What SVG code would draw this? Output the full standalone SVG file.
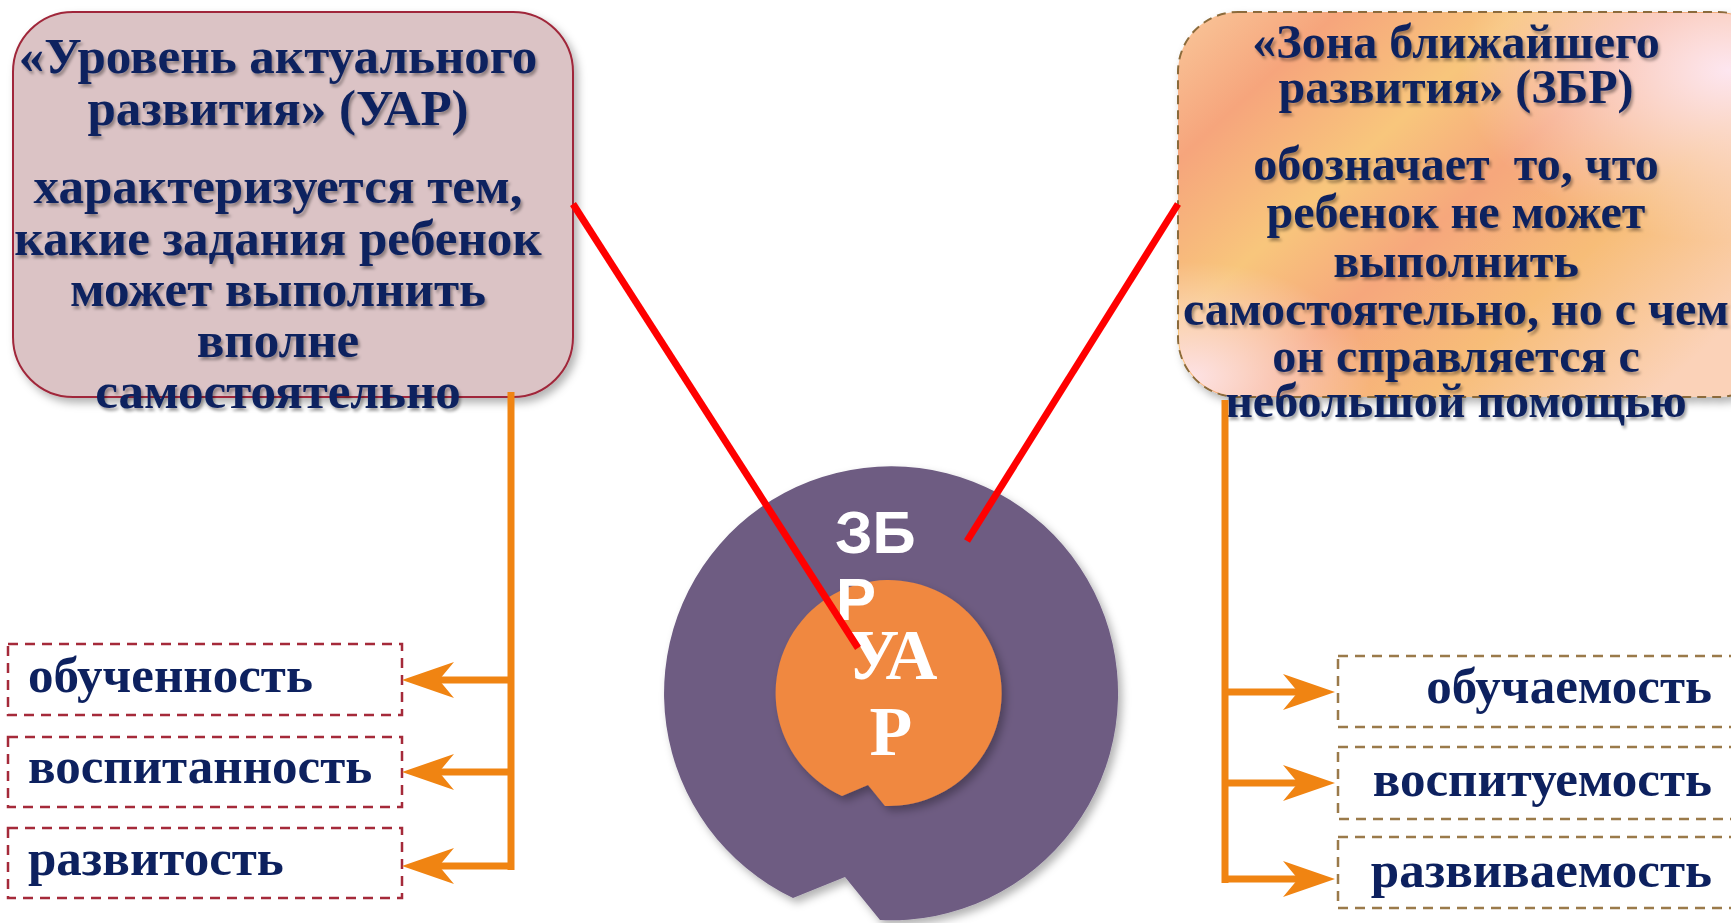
<svg xmlns="http://www.w3.org/2000/svg" width="1731" height="923" viewBox="0 0 1731 923">
<defs>
<style>
.t{font-family:"Liberation Serif","Times New Roman",serif;font-weight:bold;fill:#0d215f;white-space:pre}
.tl{font-size:51px}
.tr{font-size:48px}
.ts{font-size:51px}
.conn{stroke:#f08412;stroke-width:7;fill:none}
.red{stroke:#ff0000;stroke-width:7;fill:none}
.dl{fill:#fff;stroke:#a52a3a;stroke-width:2.5;stroke-dasharray:10 7}
.dr{fill:#fff;stroke:#9a7a4a;stroke-width:2.5;stroke-dasharray:10 7}
</style>
<filter id="tsh" x="-10%" y="-30%" width="120%" height="160%">
<feDropShadow dx="2" dy="3" stdDeviation="1.5" flood-color="#000" flood-opacity="0.35"/>
</filter>
<filter id="bsh" x="-10%" y="-10%" width="125%" height="125%">
<feDropShadow dx="4" dy="5" stdDeviation="4" flood-color="#000" flood-opacity="0.3"/>
</filter>
<linearGradient id="zg" x1="0" y1="0" x2="1" y2="0.7">
<stop offset="0" stop-color="#f9c79a"/>
<stop offset="0.18" stop-color="#f6a57c"/>
<stop offset="0.38" stop-color="#f8c67c"/>
<stop offset="0.55" stop-color="#f6a77c"/>
<stop offset="0.75" stop-color="#f7bd78"/>
<stop offset="1" stop-color="#fbd2b8"/>
</linearGradient>
<radialGradient id="zg2" cx="0.92" cy="0.15" r="0.45">
<stop offset="0" stop-color="#fde6f0" stop-opacity="1"/>
<stop offset="1" stop-color="#fde6f0" stop-opacity="0"/>
</radialGradient>
<radialGradient id="zg3" cx="0.02" cy="0.95" r="0.3">
<stop offset="0" stop-color="#fde2e4" stop-opacity="1"/>
<stop offset="1" stop-color="#fde2e4" stop-opacity="0"/>
</radialGradient>
<marker id="ah" viewBox="0 0 52 36" refX="15" refY="18" markerWidth="52" markerHeight="36" markerUnits="userSpaceOnUse" orient="auto">
<path d="M0,0 L52,18 L0,36 L15,18 Z" fill="#f08412"/>
</marker>
</defs>
<rect width="1731" height="923" fill="#fff"/>

<g id="node-uar">
<rect x="13" y="12" width="560" height="385" rx="60" fill="#dbc3c5" stroke="#a0283a" stroke-width="2" filter="url(#bsh)"/>
<g class="t tl" text-anchor="middle" filter="url(#tsh)">
<text x="278" y="73">«Уровень актуального</text>
<text x="278" y="125">развития» (УАР)</text>
<text x="278" y="203">характеризуется тем,</text>
<text x="278" y="255">какие задания ребенок</text>
<text x="278" y="306">может выполнить</text>
<text x="278" y="357">вполне</text>
<text x="278" y="408">самостоятельно</text>
</g>
</g>

<g id="node-zbr">
<g filter="url(#bsh)">
<rect x="1178" y="12" width="600" height="385" rx="60" fill="url(#zg)" stroke="#8b6b3a" stroke-width="2" stroke-dasharray="9 6"/>
</g>
<rect x="1179" y="13" width="598" height="383" rx="59" fill="url(#zg2)"/>
<rect x="1179" y="13" width="598" height="383" rx="59" fill="url(#zg3)"/>
<g class="t tr" text-anchor="middle" filter="url(#tsh)">
<text x="1456" y="58">«Зона ближайшего</text>
<text x="1456" y="103">развития» (ЗБР)</text>
<text x="1456" y="180" xml:space="preserve">обозначает  то, что</text>
<text x="1456" y="228">ребенок не может</text>
<text x="1456" y="277">выполнить</text>
<text x="1456" y="325">самостоятельно, но с чем</text>
<text x="1456" y="372">он справляется с</text>
<text x="1456" y="417">небольшой помощью</text>
</g>
</g>

<g id="node-circles">
<path d="M880,920 A227,227 0 1 0 793,898 L845,877 Z" fill="#6e5c82" filter="url(#bsh)"/>
<path d="M885,806 A113,113 0 1 0 842,796 L868,785 Z" fill="#f0883f" filter="url(#bsh)"/>
<text x="835" y="553" font-family="'Liberation Sans',Arial,sans-serif" font-weight="bold" font-size="60" fill="#fff">ЗБ</text>
<text x="836" y="620" font-family="'Liberation Sans',Arial,sans-serif" font-weight="bold" font-size="60" fill="#fff">Р</text>
<text x="892" y="679" text-anchor="middle" font-family="'Liberation Serif','Times New Roman',serif" font-weight="bold" font-size="72" fill="#fff">УА</text>
<text x="891" y="755" text-anchor="middle" font-family="'Liberation Serif','Times New Roman',serif" font-weight="bold" font-size="70" fill="#fff">Р</text>
</g>

<g id="node-obuchennost"><rect class="dl" x="8" y="644" width="394" height="71"/><text class="t ts" x="28" y="692">обученность</text></g>
<g id="node-vospitannost"><rect class="dl" x="8" y="737" width="394" height="70"/><text class="t ts" x="28" y="783">воспитанность</text></g>
<g id="node-razvitost"><rect class="dl" x="8" y="828" width="394" height="70"/><text class="t ts" x="28" y="875">развитость</text></g>

<g id="node-obuchaemost"><rect class="dr" x="1338" y="656" width="420" height="71"/><text class="t ts" x="1712" y="703" text-anchor="end">обучаемость</text></g>
<g id="node-vospituemost"><rect class="dr" x="1338" y="747" width="420" height="72"/><text class="t ts" x="1712" y="796" text-anchor="end">воспитуемость</text></g>
<g id="node-razvivaemost"><rect class="dr" x="1338" y="837" width="420" height="71"/><text class="t ts" x="1712" y="887" text-anchor="end">развиваемость</text></g>

<g id="connectors">
<line class="red" x1="573" y1="204" x2="858" y2="648"/>
<line class="red" x1="1178" y1="204" x2="967" y2="541"/>
<line class="conn" x1="511" y1="392" x2="511" y2="870"/>
<line class="conn" x1="514" y1="680" x2="439" y2="680" marker-end="url(#ah)"/>
<line class="conn" x1="514" y1="772" x2="439" y2="772" marker-end="url(#ah)"/>
<line class="conn" x1="514" y1="866" x2="439" y2="866" marker-end="url(#ah)"/>
<line class="conn" x1="1225" y1="400" x2="1225" y2="883"/>
<line class="conn" x1="1222" y1="692" x2="1298" y2="692" marker-end="url(#ah)"/>
<line class="conn" x1="1222" y1="783" x2="1298" y2="783" marker-end="url(#ah)"/>
<line class="conn" x1="1222" y1="879" x2="1298" y2="879" marker-end="url(#ah)"/>
</g>
</svg>
